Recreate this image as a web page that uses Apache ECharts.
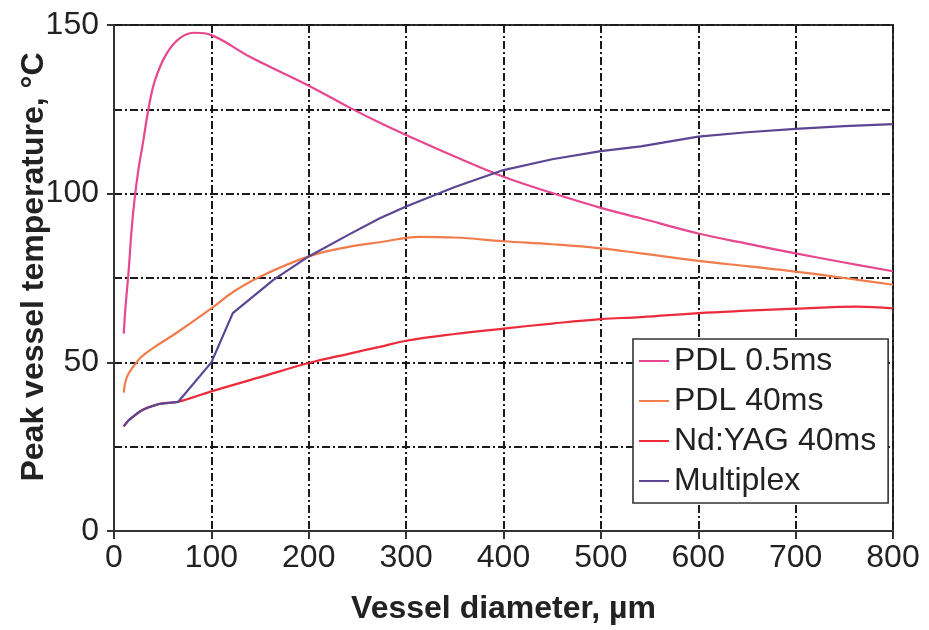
<!DOCTYPE html>
<html>
<head>
<meta charset="utf-8">
<script src="https://cdn.jsdelivr.net/npm/echarts@6/dist/echarts.min.js"></script>
<style>
html,body{margin:0;padding:0;background:#fff;}
#chart{width:929px;height:630px;}
</style>
</head>
<body>
<div id="chart"></div>
<script>
var seriesNames = ['PDL 0.5ms', 'PDL 40ms', 'Nd:YAG 40ms', 'Multiplex'];
var xTicks = [0, 100, 200, 300, 400, 500, 600, 700, 800];
var yTicks = [0, 50, 100, 150];

var pdl05 = [[10,58.5],[12,67],[15,77],[18,89],[21,98],[25,107],[30,115.5],[35,124.5],[42,133.5],[54,141.5],[68,146.2],[83,147.7],[100,147],[140,140.5],[200,132],[242,125.5],[273,121],[300,117.4],[350,111],[400,105],[450,100.2],[500,95.8],[541,92.7],[600,88.2],[650,85.2],[700,82.3],[750,79.6],[800,77]];
var pdl40 = [[10,41],[13,45.5],[20,48.8],[28,51.6],[40,54.2],[64,58.7],[100,66],[123,71],[150,75.4],[200,81.4],[242,84.3],[273,85.6],[314,87.2],[350,87],[400,85.9],[450,85],[500,83.8],[541,82.3],[600,80.1],[650,78.5],[700,76.9],[750,75],[800,73]];
var ndyag = [[10,31],[15,32.8],[20,34],[27,35.5],[34,36.5],[47,37.7],[66,38.3],[100,41.4],[150,45.6],[200,49.8],[242,52.6],[273,54.6],[300,56.4],[350,58.4],[400,60],[450,61.5],[500,62.8],[541,63.4],[600,64.6],[650,65.3],[700,65.9],[763,66.5],[800,66]];
var multiplex = [[10,31],[15,32.8],[20,34],[27,35.5],[34,36.5],[47,37.7],[66,38.3],[100,50],[122,64.6],[164,74.5],[200,81.4],[242,88],[273,92.7],[300,96.2],[350,102],[400,107],[450,110.2],[500,112.6],[541,114],[600,116.9],[650,118.2],[700,119.2],[750,120],[800,120.6]];

var colors = ['#e6478f', '#f07c4c', '#ec2b3a', '#5b4694'];
var FONT = '"Liberation Sans", Arial, Helvetica, sans-serif';
var gridLine = { color: '#1a1a1a', width: 2, type: [8, 3, 2, 3] };

var chart = echarts.init(document.getElementById('chart'), null, { renderer: 'canvas' });
chart.setOption({
  animation: false,
  backgroundColor: '#fff',
  color: colors,
  grid: { left: 114, right: 36, top: 25, bottom: 99, outerBoundsMode: 'none', containLabel: false, show: true, borderColor: '#333', borderWidth: 2, backgroundColor: 'transparent' },
  legend: {
    orient: 'vertical',
    left: 633, top: 339,
    padding: [6, 12, 6, 6],
    itemGap: 8,
    itemWidth: 30, itemHeight: 2,
    icon: 'rect',
    backgroundColor: '#fff',
    borderColor: '#333', borderWidth: 1.6, borderRadius: 0,
    textStyle: { fontFamily: FONT, fontSize: 32, color: '#222' },
    data: seriesNames
  },
  xAxis: {
    type: 'value', min: xTicks[0], max: xTicks[xTicks.length - 1], interval: 100,
    name: 'Vessel diameter, µm', nameLocation: 'middle', nameGap: 62, nameMoveOverlap: false,
    nameTextStyle: { fontFamily: FONT, fontSize: 32, fontWeight: 'bold', color: '#222' },
    axisLine: { show: true, onZero: false, lineStyle: { color: '#333', width: 2 } },
    axisTick: { show: true, inside: false, length: 8, lineStyle: { color: '#333', width: 2 } },
    axisLabel: { fontFamily: FONT, fontSize: 32, color: '#222', margin: 11,
      formatter: function (v) { return xTicks.indexOf(v) >= 0 ? String(v) : ''; } },
    splitLine: { show: true, lineStyle: gridLine }
  },
  yAxis: {
    type: 'value', min: yTicks[0], max: yTicks[yTicks.length - 1], interval: 50,
    name: 'Peak vessel temperature, °C', nameLocation: 'middle', nameGap: 64, nameRotate: 90, nameMoveOverlap: false,
    nameTextStyle: { fontFamily: FONT, fontSize: 32, fontWeight: 'bold', color: '#222', padding: [0, 0, 0, 22] },
    axisLine: { show: true, onZero: false, lineStyle: { color: '#333', width: 2 } },
    axisTick: { show: true, inside: false, length: 7, lineStyle: { color: '#333', width: 2 } },
    axisLabel: { fontFamily: FONT, fontSize: 32, color: '#222', margin: 15,
      formatter: function (v) { return yTicks.indexOf(v) >= 0 ? String(v) : ''; } },
    splitLine: { show: true, lineStyle: gridLine },
    minorTick: { show: false, splitNumber: 2 },
    minorSplitLine: { show: true, lineStyle: gridLine }
  },
  series: [
    { name: seriesNames[0], type: 'line', data: pdl05, showSymbol: false, smooth: 0.4, lineStyle: { width: 2.2, color: colors[0] }, itemStyle: { color: colors[0] } },
    { name: seriesNames[1], type: 'line', data: pdl40, showSymbol: false, smooth: 0.4, lineStyle: { width: 2.2, color: colors[1] }, itemStyle: { color: colors[1] } },
    { name: seriesNames[2], type: 'line', data: ndyag, showSymbol: false, smooth: 0.4, lineStyle: { width: 2.2, color: colors[2] }, itemStyle: { color: colors[2] } },
    { name: seriesNames[3], type: 'line', data: multiplex, showSymbol: false, smooth: false, lineStyle: { width: 2.2, color: colors[3] }, itemStyle: { color: colors[3] } }
  ]
});
</script>
</body>
</html>
